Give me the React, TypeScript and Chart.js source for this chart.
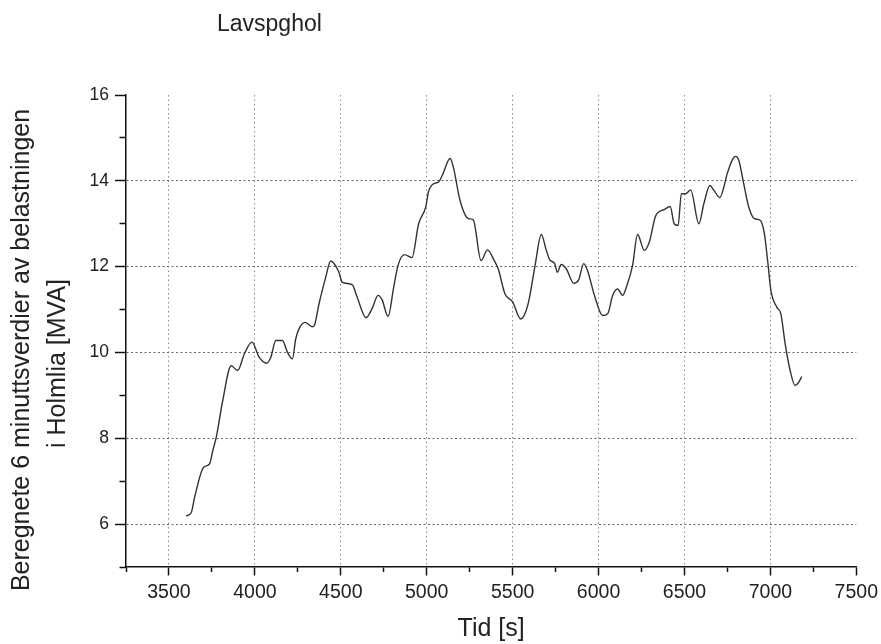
import React, { useEffect, useRef } from 'react';
import { Chart, registerables } from 'chart.js';

Chart.register(...registerables);

const CHART_TITLE = 'Lavspghol';
const X_TITLE = 'Tid [s]';
const Y_TITLE = ['Beregnete 6 minuttsverdier av belastningen', 'i Holmlia [MVA]'];

const X_MIN = 3250;
const X_MAX = 7500;
const X_STEP = 250;
const X_LABEL_STEP = 500;

const Y_MIN = 5;
const Y_MAX = 16;
const Y_STEP = 1;
const Y_LABEL_STEP = 2;

const TIME = [
  3600, 3630, 3649, 3701, 3736, 3755, 3775, 3813, 3862, 3900,
  3939, 3983, 4025, 4068, 4093, 4122, 4160, 4190, 4218, 4238,
  4257, 4292, 4334, 4345, 4373, 4412, 4441, 4489, 4508, 4566,
  4595, 4647, 4682, 4717, 4740, 4775, 4808, 4833, 4871, 4914,
  4953, 4995, 5010, 5039, 5068, 5091, 5136, 5155, 5194, 5242,
  5271, 5316, 5354, 5393, 5416, 5455, 5500, 5547, 5590, 5629,
  5667, 5696, 5716, 5745, 5760, 5783, 5812, 5856, 5884, 5914,
  5937, 5976, 6024, 6053, 6082, 6111, 6140, 6165, 6198, 6227,
  6266, 6295, 6333, 6382, 6417, 6440, 6463, 6482, 6507, 6536,
  6584, 6613, 6648, 6671, 6706, 6729, 6749, 6797, 6816, 6845,
  6874, 6907, 6941, 6965, 6984, 7003, 7038, 7061, 7086, 7115,
  7144, 7164, 7183,
];

const LOAD = [
  6.19, 6.27, 6.62, 7.32, 7.40, 7.71, 8.02, 8.88, 9.69, 9.58,
  9.97, 10.24, 9.89, 9.75, 9.89, 10.28, 10.28, 10.00, 9.85, 10.32,
  10.55, 10.70, 10.60, 10.62, 11.13, 11.75, 12.13, 11.87, 11.64, 11.58,
  11.29, 10.81, 11.02, 11.33, 11.23, 10.84, 11.52, 12.03, 12.28, 12.21,
  13.00, 13.40, 13.74, 13.93, 13.97, 14.13, 14.52, 14.32, 13.54, 13.12,
  13.09, 12.14, 12.39, 12.14, 11.95, 11.37, 11.18, 10.78, 11.13, 11.99,
  12.75, 12.38, 12.16, 12.07, 11.87, 12.05, 11.95, 11.61, 11.69, 12.07,
  11.89, 11.33, 10.86, 10.90, 11.33, 11.48, 11.33, 11.56, 12.03, 12.75,
  12.38, 12.57, 13.19, 13.33, 13.40, 13.00, 12.96, 13.70, 13.70, 13.79,
  13.00, 13.47, 13.89, 13.78, 13.61, 13.85, 14.17, 14.57, 14.48, 13.93,
  13.39, 13.12, 13.08, 12.77, 12.14, 11.44, 11.05, 10.90, 10.20, 9.58,
  9.23, 9.30, 9.44,
];

const FONT = '"Liberation Sans", Arial, Helvetica, sans-serif';
const TEXT = '#222';
const AXIS = '#111';

const isMultiple = (v: number, step: number) => Math.abs(v / step - Math.round(v / step)) < 1e-6;

// Chart title and the two-line y-axis title, drawn relative to the chart area.
const titlesPlugin = {
  id: 'titlesText',
  afterDraw(chart: any) {
    const { ctx, chartArea } = chart;
    ctx.save();
    ctx.fillStyle = TEXT;

    ctx.font = `23px ${FONT}`;
    ctx.textAlign = 'left';
    ctx.textBaseline = 'alphabetic';
    ctx.fillText(CHART_TITLE, chartArea.left + 91, chartArea.top - 64);

    ctx.font = `25px ${FONT}`;
    ctx.textAlign = 'center';
    ctx.textBaseline = 'middle';
    const lineX = [chartArea.left - 103.7, chartArea.left - 67.7];
    const lineY = [chartArea.bottom - 217, chartArea.bottom - 203.5];
    Y_TITLE.forEach((line, i) => {
      ctx.save();
      ctx.translate(lineX[i], lineY[i]);
      ctx.rotate(-Math.PI / 2);
      ctx.fillText(line, 0, 0);
      ctx.restore();
    });
    ctx.restore();
  },
};

export default function App() {
  const canvasRef = useRef<HTMLCanvasElement | null>(null);

  useEffect(() => {
    const canvas = canvasRef.current;
    if (!canvas) return;
    const points = TIME.map((t, i) => ({ x: t, y: LOAD[i] }));

    const chart = new Chart(canvas, {
      type: 'line',
      data: {
        datasets: [
          {
            data: points,
            borderColor: '#333',
            borderWidth: 1.4,
            pointRadius: 0,
            fill: false,
            tension: 0.4,
            cubicInterpolationMode: 'monotone',
          },
        ],
      },
      options: {
        animation: false,
        responsive: false,
        devicePixelRatio: 1,
        layout: { padding: { top: 95, right: 24, left: 0, bottom: 0 } },
        plugins: {
          legend: { display: false },
          title: { display: false },
          tooltip: { enabled: false },
        },
        scales: {
          x: {
            type: 'linear',
            position: 'bottom',
            min: X_MIN,
            max: X_MAX,
            afterFit: (s: any) => {
              s.height = 77;
            },
            ticks: {
              stepSize: X_STEP,
              autoSkip: false,
              maxRotation: 0,
              padding: 3,
              color: TEXT,
              font: { family: FONT, size: 19.5 },
              callback: (v: any) => (isMultiple(Number(v), X_LABEL_STEP) ? String(v) : ''),
            },
            grid: {
              drawOnChartArea: true,
              drawTicks: true,
              tickLength: 11,
              lineWidth: 1,
              color: (c: any) => {
                const v = c.tick ? c.tick.value : null;
                if (v == null) return 'rgba(0,0,0,0)';
                return isMultiple(v, X_LABEL_STEP) && v > X_MIN && v < X_MAX ? '#8a8a8a' : 'rgba(0,0,0,0)';
              },
              tickColor: AXIS,
              tickWidth: 1.5,
              tickBorderDash: (c: any) =>
                c.tick && isMultiple(c.tick.value, X_LABEL_STEP) ? [8, 100] : [4.5, 100],
            },
            border: { display: true, color: AXIS, width: 1.5, dash: [1.5, 3] },
            title: {
              display: true,
              text: X_TITLE,
              color: TEXT,
              font: { family: FONT, size: 25 },
              padding: { top: 0, bottom: 0 },
            },
          },
          y: {
            type: 'linear',
            position: 'left',
            min: Y_MIN,
            max: Y_MAX,
            afterFit: (s: any) => {
              s.width = 126;
            },
            ticks: {
              stepSize: Y_STEP,
              autoSkip: false,
              padding: 6,
              color: TEXT,
              font: { family: FONT, size: 17.5 },
              callback: (v: any) => (isMultiple(Number(v), Y_LABEL_STEP) ? String(v) : ''),
            },
            grid: {
              drawOnChartArea: true,
              drawTicks: true,
              tickLength: 11,
              lineWidth: 1,
              color: (c: any) => {
                const v = c.tick ? c.tick.value : null;
                if (v == null) return 'rgba(0,0,0,0)';
                return isMultiple(v, Y_LABEL_STEP) && v > Y_MIN && v < Y_MAX ? '#666' : 'rgba(0,0,0,0)';
              },
              tickColor: AXIS,
              tickWidth: 1.5,
              tickBorderDash: (c: any) =>
                c.tick && isMultiple(c.tick.value, Y_LABEL_STEP) ? [] : [0, 4.5, 6, 100],
            },
            border: { display: true, color: AXIS, width: 1.5, dash: [2, 2.5] },
            title: { display: false },
          },
        },
      },
      plugins: [titlesPlugin],
    });

    return () => {
      chart.destroy();
    };
  }, []);

  return (
    <div style={{ position: 'fixed', left: 0, top: 0, width: 881, height: 644, background: '#fff' }}>
      <canvas ref={canvasRef} width={881} height={644} style={{ display: 'block' }} />
    </div>
  );
}
